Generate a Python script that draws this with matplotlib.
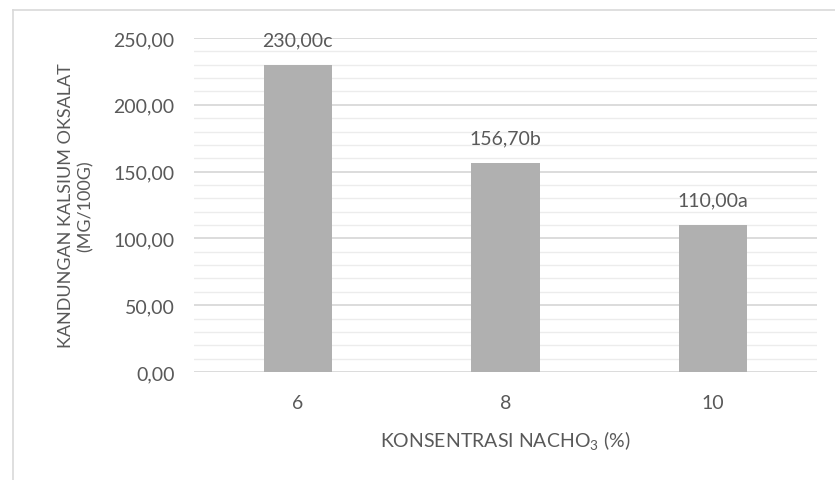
import matplotlib.pyplot as plt
from matplotlib.lines import Line2D
from matplotlib.ticker import MultipleLocator, FuncFormatter

# data
concentrations = ["6", "8", "10"]
oxalate = [230.00, 156.70, 110.00]
letters = ["c", "b", "a"]

plt.rcParams["font.family"] = ["Lato", "DejaVu Sans"]
plt.rcParams["mathtext.fontset"] = "custom"
plt.rcParams["mathtext.rm"] = "Lato"
plt.rcParams["mathtext.it"] = "Lato"

text_col = "#595959"
fs = 14

fig = plt.figure(figsize=(8.35, 4.81), dpi=100)
ax = fig.add_axes([194 / 835, 1 - 373 / 481, (817 - 194) / 835, (373 - 39) / 481])

x = range(len(concentrations))
ax.bar(x, oxalate, width=0.33, color="#b0b0b0", zorder=3)

for xi, v, l in zip(x, oxalate, letters):
    lab = f"{v:.2f}".replace(".", ",") + l
    ax.annotate(lab, (xi, v), xytext=(0, 18), textcoords="offset points",
                ha="center", va="center", fontsize=fs, color=text_col)

ax.set_xlim(-0.5, 2.5)
ax.set_ylim(0, 250)
ax.yaxis.set_major_locator(MultipleLocator(50))
ax.yaxis.set_minor_locator(MultipleLocator(10))
ax.yaxis.set_major_formatter(FuncFormatter(lambda v, p: f"{v:.2f}".replace(".", ",")))
ax.set_xticks(list(x))
ax.set_xticklabels(concentrations)

ax.grid(axis="y", which="major", color="#d9d9d9", linewidth=1.3, zorder=0)
ax.grid(axis="y", which="minor", color="#ececec", linewidth=1.0, zorder=0)
ax.tick_params(axis="both", which="both", length=0, labelsize=fs, colors=text_col)
ax.tick_params(axis="y", pad=14)
ax.tick_params(axis="x", pad=16)
for s in ax.spines.values():
    s.set_visible(False)

ax.set_xlabel("KONSENTRASI NACHO$_3$ (%)", fontsize=fs, color=text_col, labelpad=12)
ax.set_ylabel("KANDUNGAN KALSIUM OKSALAT\n(MG/100G)", fontsize=13, color=text_col,
              labelpad=14, linespacing=1.3)

# outer chart frame
fig.add_artist(Line2D([13 / 835, 1], [1 - 11 / 481, 1 - 11 / 481], color="#d9d9d9", lw=1.2))
fig.add_artist(Line2D([13 / 835, 13 / 835], [0, 1 - 11 / 481], color="#d9d9d9", lw=1.2))

fig.savefig("out.png", dpi=100)
